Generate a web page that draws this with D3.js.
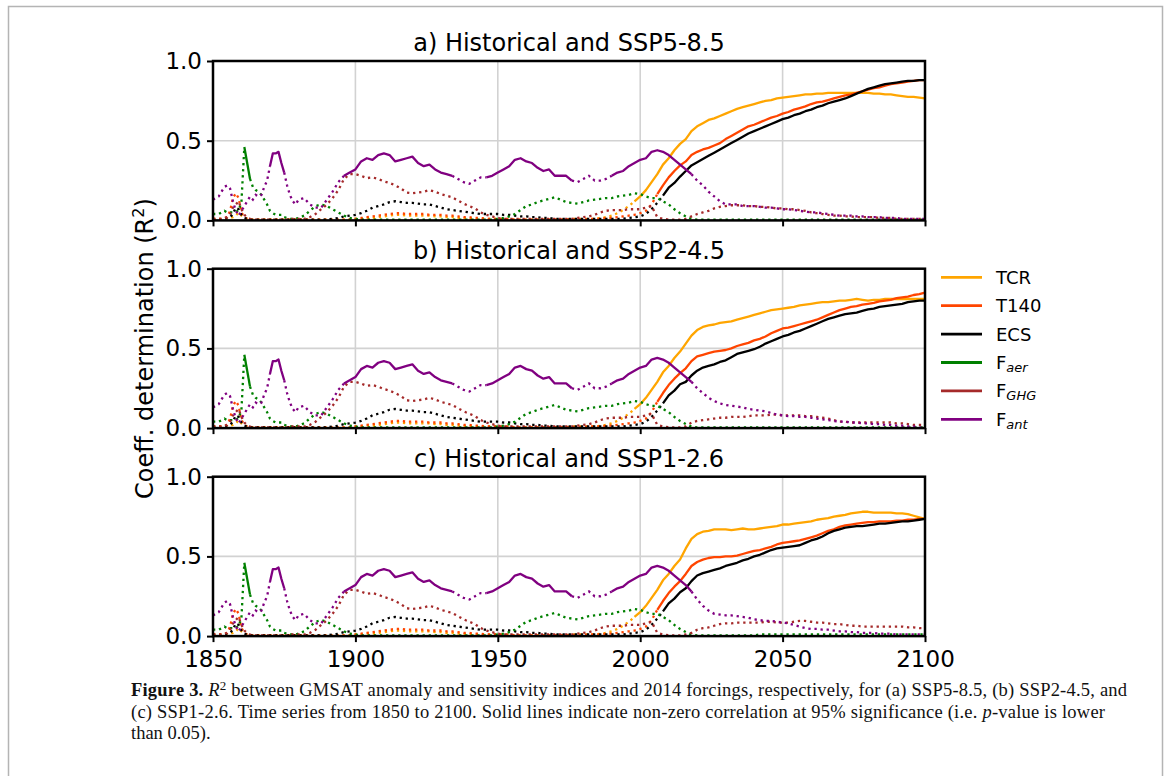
<!DOCTYPE html>
<html>
<head>
<meta charset="utf-8">
<script src="https://cdn.jsdelivr.net/npm/d3@7"></script>
<style>
  body { margin: 0; background: #fff; }
</style>
</head>
<body>
<div id="chart"></div>
<script>
// time axis: yearly up to 1880, then every 2 years
const histYears = d3.range(1850, 1881).concat(d3.range(1882, 2015, 2));
const scenYears = d3.range(2016, 2101, 2);

const panelTitles = ["a) Historical and SSP5-8.5", "b) Historical and SSP2-4.5", "c) Historical and SSP1-2.6"];
const xTicks = [1850, 1900, 1950, 2000, 2050, 2100];
const yTicks = [0, 0.5, 1.0];

// historical part (same in every panel)
const tcrHist = [
  0.01,0.01,0.01,0.01,0.01,0.01,0.015,0.02,0.03,0.05,
  0.03,0.015,0.01,0.005,0.005,0.005,0.005,0.005,0.005,0.005,
  0.005,0.005,0.005,0.005,0.005,0.005,0.005,0.005,0.005,0.005,0.005,
  0.005,0.005,0.005,0.005,0.005,0.005,0.005,0.005,0.005,0.01,
  0.01,0.015,0.015,0.02,0.025,0.03,0.035,0.035,0.03,0.03,
  0.03,0.03,0.03,0.025,0.025,0.02,0.02,0.015,0.015,0.01,
  0.01,0.01,0.01,0.01,0.01,0.005,0.005,0.005,0.005,0.005,
  0.005,0.005,0.005,0.005,0.005,0.005,0.005,0.01,0.01,0.01,
  0.01,0.01,0.015,0.02,0.03,0.045,0.065,0.09,0.12,0.15,
  0.19,0.24,0.29,0.35,0.39,0.44,0.48
];
const t140Hist = [
  0.01,0.01,0.01,0.01,0.015,0.02,0.06,0.14,0.17,0.14,
  0.05,0.02,0.01,0.005,0.005,0.005,0.005,0.005,0.005,0.005,
  0.005,0.005,0.005,0.005,0.005,0.005,0.005,0.005,0.005,0.005,0.005,
  0.005,0.005,0.005,0.005,0.005,0.005,0.005,0.005,0.005,0.01,
  0.015,0.02,0.025,0.03,0.035,0.04,0.045,0.045,0.04,0.04,
  0.04,0.04,0.035,0.035,0.035,0.03,0.03,0.025,0.02,0.02,
  0.015,0.015,0.01,0.01,0.01,0.01,0.01,0.005,0.005,0.005,
  0.005,0.005,0.005,0.005,0.005,0.005,0.005,0.005,0.005,0.005,
  0.01,0.01,0.01,0.015,0.015,0.02,0.025,0.03,0.035,0.045,
  0.06,0.10,0.165,0.22,0.27,0.31,0.345
];
const ecsHist = [
  0.005,0.005,0.005,0.005,0.01,0.015,0.02,0.04,0.08,0.07,
  0.035,0.015,0.01,0.005,0.005,0.005,0.005,0.005,0.005,0.005,
  0.005,0.005,0.005,0.005,0.005,0.005,0.005,0.005,0.005,0.005,0.005,
  0.005,0.005,0.005,0.005,0.005,0.01,0.015,0.025,0.03,0.035,
  0.045,0.06,0.08,0.09,0.10,0.115,0.12,0.115,0.11,0.11,
  0.105,0.10,0.10,0.09,0.08,0.07,0.065,0.06,0.055,0.05,
  0.045,0.04,0.04,0.04,0.04,0.035,0.035,0.03,0.025,0.025,
  0.02,0.02,0.015,0.015,0.01,0.01,0.01,0.01,0.01,0.01,
  0.01,0.01,0.01,0.01,0.01,0.01,0.01,0.015,0.02,0.025,
  0.04,0.07,0.11,0.155,0.205,0.235,0.275
];
const aerHist = [
  0.04,0.04,0.04,0.05,0.06,0.05,0.05,0.05,0.055,0.06,
  0.12,0.46,0.36,0.26,0.21,0.19,0.18,0.16,0.13,0.10,
  0.06,0.045,0.035,0.035,0.035,0.02,0.015,0.01,0.01,0.01,0.015,
  0.03,0.06,0.09,0.10,0.09,0.07,0.05,0.03,0.015,0.01,
  0.005,0.005,0.005,0.005,0.005,0.005,0.005,0.005,0.005,0.005,
  0.005,0.005,0.005,0.005,0.005,0.005,0.005,0.005,0.005,0.005,
  0.005,0.005,0.005,0.005,0.01,0.015,0.025,0.04,0.065,0.09,
  0.10,0.115,0.125,0.135,0.145,0.13,0.115,0.11,0.105,0.115,
  0.125,0.13,0.135,0.14,0.14,0.15,0.155,0.16,0.17,0.165,
  0.15,0.14,0.14,0.12,0.10,0.07,0.045
];
const ghgHist = [
  0.01,0.01,0.01,0.01,0.015,0.02,0.04,0.08,0.10,0.12,
  0.07,0.035,0.02,0.01,0.005,0.005,0.005,0.005,0.005,0.005,
  0.005,0.005,0.005,0.005,0.005,0.005,0.005,0.01,0.01,0.01,0.01,
  0.01,0.02,0.04,0.07,0.10,0.14,0.19,0.26,0.29,0.29,
  0.28,0.265,0.27,0.26,0.245,0.235,0.22,0.20,0.175,0.17,
  0.175,0.18,0.19,0.18,0.165,0.155,0.145,0.125,0.105,0.09,
  0.075,0.05,0.035,0.025,0.015,0.01,0.01,0.01,0.01,0.01,
  0.01,0.01,0.01,0.01,0.01,0.01,0.01,0.01,0.015,0.02,
  0.025,0.035,0.05,0.06,0.065,0.065,0.065,0.07,0.07,0.07,
  0.08,0.09,0.02,0.01,0.005,0.005,0.005
];
const antHist = [
  0.13,0.14,0.15,0.18,0.21,0.22,0.20,0.12,0.06,0.03,
  0.06,0.09,0.12,0.15,0.13,0.16,0.15,0.16,0.21,0.25,
  0.34,0.42,0.42,0.43,0.36,0.30,0.22,0.16,0.12,0.10,0.13,
  0.14,0.10,0.08,0.08,0.13,0.18,0.24,0.28,0.30,0.32,
  0.37,0.39,0.38,0.41,0.42,0.41,0.37,0.38,0.39,0.40,
  0.36,0.34,0.35,0.32,0.30,0.29,0.28,0.26,0.24,0.23,
  0.25,0.27,0.27,0.28,0.30,0.32,0.34,0.38,0.39,0.37,
  0.36,0.33,0.31,0.32,0.28,0.28,0.28,0.25,0.24,0.26,
  0.28,0.25,0.25,0.26,0.28,0.30,0.31,0.34,0.36,0.38,
  0.39,0.43,0.44,0.43,0.41,0.38,0.35
];

// scenario part, 2016-2100
const tcrSSP585 = [
  0.51,0.56,0.59,0.61,0.63,0.64,0.655,0.67,0.685,0.70,
  0.71,0.72,0.73,0.74,0.75,0.755,0.765,0.77,0.775,0.78,
  0.785,0.79,0.79,0.795,0.795,0.80,0.80,0.80,0.80,0.80,
  0.80,0.80,0.80,0.795,0.795,0.79,0.79,0.785,0.78,0.775,
  0.775,0.77,0.765
];
const tcrSSP245 = [
  0.53,0.58,0.615,0.635,0.645,0.65,0.66,0.665,0.67,0.68,
  0.69,0.70,0.71,0.72,0.73,0.74,0.745,0.75,0.755,0.76,
  0.77,0.775,0.78,0.785,0.79,0.79,0.795,0.80,0.80,0.805,
  0.81,0.805,0.80,0.805,0.805,0.81,0.81,0.81,0.81,0.81,
  0.81,0.81,0.81
];
const tcrSSP126 = [
  0.55,0.61,0.64,0.655,0.66,0.67,0.67,0.67,0.665,0.67,
  0.675,0.67,0.67,0.675,0.68,0.685,0.69,0.70,0.70,0.705,
  0.71,0.715,0.72,0.73,0.735,0.74,0.75,0.755,0.76,0.77,
  0.775,0.78,0.78,0.775,0.775,0.775,0.775,0.77,0.77,0.765,
  0.755,0.745,0.735
];
const t140SSP585 = [
  0.37,0.41,0.43,0.445,0.455,0.47,0.485,0.51,0.53,0.55,
  0.57,0.59,0.60,0.615,0.63,0.645,0.655,0.67,0.68,0.695,
  0.705,0.715,0.73,0.74,0.745,0.755,0.765,0.775,0.785,0.79,
  0.80,0.81,0.82,0.83,0.835,0.845,0.855,0.86,0.865,0.87,
  0.875,0.88,0.88
];
const t140SSP245 = [
  0.375,0.42,0.45,0.46,0.47,0.48,0.485,0.49,0.50,0.515,
  0.525,0.535,0.55,0.56,0.575,0.595,0.61,0.625,0.63,0.64,
  0.65,0.66,0.67,0.68,0.695,0.71,0.725,0.74,0.75,0.76,
  0.765,0.775,0.78,0.785,0.795,0.80,0.805,0.815,0.82,0.825,
  0.835,0.84,0.85
];
const t140SSP126 = [
  0.39,0.44,0.465,0.48,0.49,0.495,0.495,0.50,0.50,0.505,
  0.515,0.525,0.535,0.54,0.55,0.56,0.575,0.585,0.59,0.595,
  0.60,0.61,0.62,0.63,0.645,0.66,0.67,0.685,0.695,0.70,
  0.705,0.71,0.715,0.715,0.72,0.72,0.72,0.725,0.725,0.73,
  0.73,0.735,0.735
];
const ecsSSP585 = [
  0.31,0.345,0.365,0.385,0.405,0.425,0.445,0.465,0.485,0.505,
  0.525,0.545,0.56,0.575,0.59,0.605,0.62,0.635,0.645,0.66,
  0.67,0.685,0.695,0.71,0.72,0.735,0.745,0.755,0.765,0.78,
  0.795,0.81,0.825,0.835,0.845,0.855,0.86,0.865,0.87,0.875,
  0.875,0.88,0.88
];
const ecsSSP245 = [
  0.29,0.33,0.36,0.38,0.39,0.40,0.415,0.425,0.445,0.465,
  0.475,0.485,0.495,0.51,0.53,0.545,0.56,0.575,0.585,0.60,
  0.61,0.625,0.64,0.655,0.67,0.685,0.695,0.705,0.715,0.72,
  0.725,0.735,0.745,0.75,0.76,0.765,0.77,0.775,0.78,0.79,
  0.795,0.80,0.80
];
const ecsSSP126 = [
  0.30,0.345,0.38,0.395,0.405,0.415,0.425,0.44,0.45,0.46,
  0.475,0.485,0.50,0.51,0.525,0.54,0.55,0.555,0.56,0.565,
  0.57,0.585,0.60,0.61,0.625,0.645,0.66,0.67,0.68,0.685,
  0.69,0.69,0.695,0.70,0.705,0.705,0.71,0.715,0.72,0.72,
  0.725,0.73,0.735
];
const aerSSP585 = [
  0.025,0.01,0.005,0.005,0.005,0.005,0.005,0.005,0.005,0.005,
  0.005,0.005,0.005,0.005,0.005,0.005,0.005,0.005,0.005,0.005,
  0.005,0.005,0.005,0.005,0.005,0.005,0.005,0.005,0.005,0.005,
  0.005,0.005,0.005,0.005,0.005,0.005,0.005,0.005,0.005,0.005,
  0.005,0.005,0.005
];
const aerSSP245 = [
  0.025,0.01,0.005,0.005,0.005,0.005,0.005,0.005,0.005,0.005,
  0.005,0.005,0.005,0.005,0.005,0.005,0.005,0.005,0.005,0.005,
  0.005,0.005,0.005,0.005,0.005,0.005,0.005,0.005,0.005,0.005,
  0.005,0.005,0.005,0.005,0.005,0.005,0.005,0.005,0.005,0.005,
  0.005,0.005,0.005
];
const aerSSP126 = [
  0.025,0.01,0.005,0.005,0.005,0.005,0.005,0.005,0.005,0.005,
  0.005,0.005,0.005,0.01,0.01,0.01,0.01,0.01,0.01,0.01,
  0.01,0.01,0.01,0.01,0.01,0.01,0.01,0.01,0.01,0.01,
  0.01,0.01,0.01,0.01,0.01,0.01,0.01,0.01,0.01,0.01,
  0.01,0.01,0.01
];
const ghgSSP585 = [
  0.01,0.025,0.04,0.05,0.06,0.075,0.085,0.09,0.095,0.095,
  0.095,0.09,0.09,0.085,0.085,0.08,0.075,0.075,0.07,0.07,
  0.065,0.06,0.05,0.045,0.04,0.035,0.03,0.03,0.025,0.025,
  0.02,0.02,0.02,0.02,0.015,0.015,0.015,0.01,0.01,0.01,
  0.01,0.01,0.005
];
const ghgSSP245 = [
  0.01,0.035,0.045,0.05,0.055,0.06,0.065,0.065,0.07,0.07,
  0.07,0.075,0.08,0.08,0.08,0.085,0.085,0.08,0.08,0.08,
  0.08,0.075,0.075,0.07,0.065,0.06,0.05,0.04,0.04,0.035,
  0.035,0.035,0.035,0.035,0.035,0.035,0.035,0.03,0.03,0.025,
  0.02,0.02,0.02
];
const ghgSSP126 = [
  0.01,0.02,0.04,0.05,0.055,0.065,0.075,0.08,0.08,0.085,
  0.085,0.085,0.085,0.085,0.09,0.09,0.085,0.085,0.085,0.09,
  0.095,0.095,0.09,0.085,0.085,0.08,0.075,0.075,0.07,0.065,
  0.065,0.06,0.06,0.06,0.06,0.06,0.06,0.06,0.06,0.055,
  0.055,0.05,0.05
];
const antSSP585 = [
  0.32,0.29,0.25,0.22,0.18,0.15,0.12,0.10,0.10,0.10,
  0.09,0.09,0.09,0.085,0.08,0.08,0.075,0.07,0.07,0.065,
  0.06,0.055,0.05,0.05,0.045,0.04,0.035,0.03,0.03,0.03,
  0.025,0.025,0.02,0.02,0.02,0.015,0.015,0.015,0.01,0.01,
  0.01,0.01,0.01
];
const antSSP245 = [
  0.32,0.29,0.25,0.22,0.19,0.17,0.155,0.145,0.14,0.135,
  0.13,0.12,0.115,0.11,0.105,0.095,0.085,0.08,0.075,0.075,
  0.07,0.07,0.065,0.06,0.055,0.05,0.045,0.04,0.04,0.035,
  0.035,0.03,0.03,0.025,0.025,0.02,0.02,0.015,0.015,0.01,
  0.01,0.005,0.005
];
const antSSP126 = [
  0.32,0.28,0.23,0.19,0.16,0.14,0.135,0.13,0.13,0.125,
  0.12,0.115,0.105,0.10,0.095,0.095,0.09,0.085,0.08,0.07,
  0.06,0.05,0.045,0.045,0.04,0.04,0.035,0.03,0.03,0.025,
  0.025,0.02,0.02,0.02,0.015,0.015,0.015,0.01,0.01,0.01,
  0.01,0.01,0.01
];

// year ranges where the correlation is significant (drawn solid)
const sigTCR = [[1998, 2100]];
const sigT140 = [[2005, 2100]];
const sigECS = [[2007, 2100]];
const sigAer = [[1861, 1863]];
const sigGHG = [];
const sigAnt = [[1870, 1875], [1896, 1935], [1945, 1976], [1990, 2019]];

const series = [
  { key: "TCR", color: "#ffa500", hist: tcrHist, scen: [tcrSSP585, tcrSSP245, tcrSSP126], sig: sigTCR },
  { key: "T140", color: "#ff4500", hist: t140Hist, scen: [t140SSP585, t140SSP245, t140SSP126], sig: sigT140 },
  { key: "ECS", color: "#000000", hist: ecsHist, scen: [ecsSSP585, ecsSSP245, ecsSSP126], sig: sigECS },
  { key: "F", sub: "aer", color: "#008000", hist: aerHist, scen: [aerSSP585, aerSSP245, aerSSP126], sig: sigAer },
  { key: "F", sub: "GHG", color: "#a52a2a", hist: ghgHist, scen: [ghgSSP585, ghgSSP245, ghgSSP126], sig: sigGHG },
  { key: "F", sub: "ant", color: "#800080", hist: antHist, scen: [antSSP585, antSSP245, antSSP126], sig: sigAnt }
];

const width = 1171, height = 776;
const plotLeft = 213, plotRight = 925;
const panelTops = [61, 268.7, 476.7];
const panelH = 159.4;
const font = "'DejaVu Sans', sans-serif";
const lw = 2.3;

const svg = d3.select("#chart").append("svg")
    .attr("width", width)
    .attr("height", height)
    .style("display", "block");

svg.append("rect").attr("width", width).attr("height", height).attr("fill", "#fff");

// page frame
svg.append("path")
    .attr("d", "M8.5,800 V6.5 H1162.5 V800")
    .attr("fill", "none")
    .attr("stroke", "#b4b4b4")
    .attr("stroke-width", 1.5);

const x = d3.scaleLinear().domain([1850, 2100]).range([plotLeft, plotRight]);
const years = histYears.concat(scenYears);

panelTops.forEach((top, p) => {
    const y = d3.scaleLinear().domain([0, 1]).range([top + panelH, top]);
    const g = svg.append("g");

    // grid
    g.selectAll(".vgrid").data(xTicks).enter().append("line")
        .attr("x1", d => x(d)).attr("x2", d => x(d))
        .attr("y1", top).attr("y2", top + panelH)
        .attr("stroke", "#d2d2d2").attr("stroke-width", 1.6);
    g.selectAll(".hgrid").data(yTicks).enter().append("line")
        .attr("x1", plotLeft).attr("x2", plotRight)
        .attr("y1", d => y(d)).attr("y2", d => y(d))
        .attr("stroke", "#d2d2d2").attr("stroke-width", 1.6);

    // lines
    series.forEach(s => {
        const vals = s.hist.concat(s.scen[p]);
        const pts = years.map((yr, i) => ({
            year: yr,
            v: vals[i],
            solid: s.sig.some(r => yr >= r[0] && yr <= r[1])
        }));
        const dotted = pts.map((d, i) => !d.solid ||
            (i > 0 && !pts[i - 1].solid) || (i < pts.length - 1 && !pts[i + 1].solid));

        g.append("path")
            .datum(pts)
            .attr("fill", "none")
            .attr("stroke", s.color)
            .attr("stroke-width", lw)
            .attr("stroke-dasharray", `${lw},${(lw * 1.65).toFixed(2)}`)
            .attr("d", d3.line().defined((d, i) => dotted[i]).x(d => x(d.year)).y(d => y(d.v)));

        g.append("path")
            .datum(pts)
            .attr("fill", "none")
            .attr("stroke", s.color)
            .attr("stroke-width", lw)
            .attr("stroke-linejoin", "round")
            .attr("d", d3.line().defined(d => d.solid).x(d => x(d.year)).y(d => y(d.v)));
    });

    // axes
    const ya = g.append("g")
        .attr("transform", `translate(${plotLeft},0)`)
        .call(d3.axisLeft(y).tickValues(yTicks).tickFormat(d3.format(".1f")).tickSize(6).tickPadding(5));
    const xa = g.append("g")
        .attr("transform", `translate(0,${top + panelH})`)
        .call(d3.axisBottom(x).tickValues(xTicks).tickFormat(d3.format("d")).tickSize(6).tickPadding(9));
    [ya, xa].forEach(a => {
        a.select(".domain").remove();
        a.selectAll("line").attr("stroke", "#000").attr("stroke-width", 2);
        a.selectAll("text").attr("fill", "#000").style("font-family", font).style("font-size", "23px");
    });
    if (p < 2) xa.selectAll("text").remove();

    g.append("rect")
        .attr("x", plotLeft).attr("y", top)
        .attr("width", plotRight - plotLeft).attr("height", panelH)
        .attr("fill", "none").attr("stroke", "#000").attr("stroke-width", 2.5);

    g.append("text")
        .attr("x", (plotLeft + plotRight) / 2)
        .attr("y", top - 10)
        .attr("text-anchor", "middle")
        .style("font-family", font)
        .style("font-size", "24px")
        .text(panelTitles[p]);
});

// y label
const yl = svg.append("text")
    .attr("transform", `translate(153,${(panelTops[0] + panelTops[2] + panelH) / 2}) rotate(-90)`)
    .attr("text-anchor", "middle")
    .style("font-family", font)
    .style("font-size", "24px");
yl.append("tspan").text("Coeff. determination (R");
yl.append("tspan").attr("dy", -9).style("font-size", "16px").text("2");
yl.append("tspan").attr("dy", 9).text(")");

// legend
const legend = svg.append("g");
series.forEach((s, i) => {
    const cy = 277.3 + i * 28.4;
    legend.append("line")
        .attr("x1", 941).attr("x2", 982)
        .attr("y1", cy).attr("y2", cy)
        .attr("stroke", s.color).attr("stroke-width", 2.8);
    const t = legend.append("text")
        .attr("x", 996).attr("y", cy + 6.5)
        .style("font-family", font)
        .style("font-size", "18px")
        .text(s.key);
    if (s.sub) {
        t.append("tspan").attr("dy", 3).style("font-size", "13px").style("font-style", "italic").text(s.sub);
    }
});

// caption
const capFont = "'Liberation Serif', 'Times New Roman', serif";
const capSize = "18.5px";
const cap1 = svg.append("text").attr("x", 131).attr("y", 696)
    .attr("textLength", 996).attr("lengthAdjust", "spacing")
    .style("font-family", capFont).style("font-size", capSize).attr("fill", "#111");
cap1.append("tspan").style("font-weight", "bold").text("Figure 3. ");
cap1.append("tspan").style("font-style", "italic").text("R");
cap1.append("tspan").attr("dy", -6).style("font-size", "13px").text("2");
cap1.append("tspan").attr("dy", 6).text(" between GMSAT anomaly and sensitivity indices and 2014 forcings, respectively, for (a) SSP5-8.5, (b) SSP2-4.5, and");

const cap2 = svg.append("text").attr("x", 131).attr("y", 717.5)
    .attr("textLength", 974).attr("lengthAdjust", "spacing")
    .style("font-family", capFont).style("font-size", capSize).attr("fill", "#111");
cap2.append("tspan").text("(c) SSP1-2.6. Time series from 1850 to 2100. Solid lines indicate non-zero correlation at 95% significance (i.e. ");
cap2.append("tspan").style("font-style", "italic").text("p");
cap2.append("tspan").text("-value is lower");

svg.append("text").attr("x", 131).attr("y", 739)
    .style("font-family", capFont).style("font-size", capSize).attr("fill", "#111")
    .text("than 0.05).");
</script>
</body>
</html>
